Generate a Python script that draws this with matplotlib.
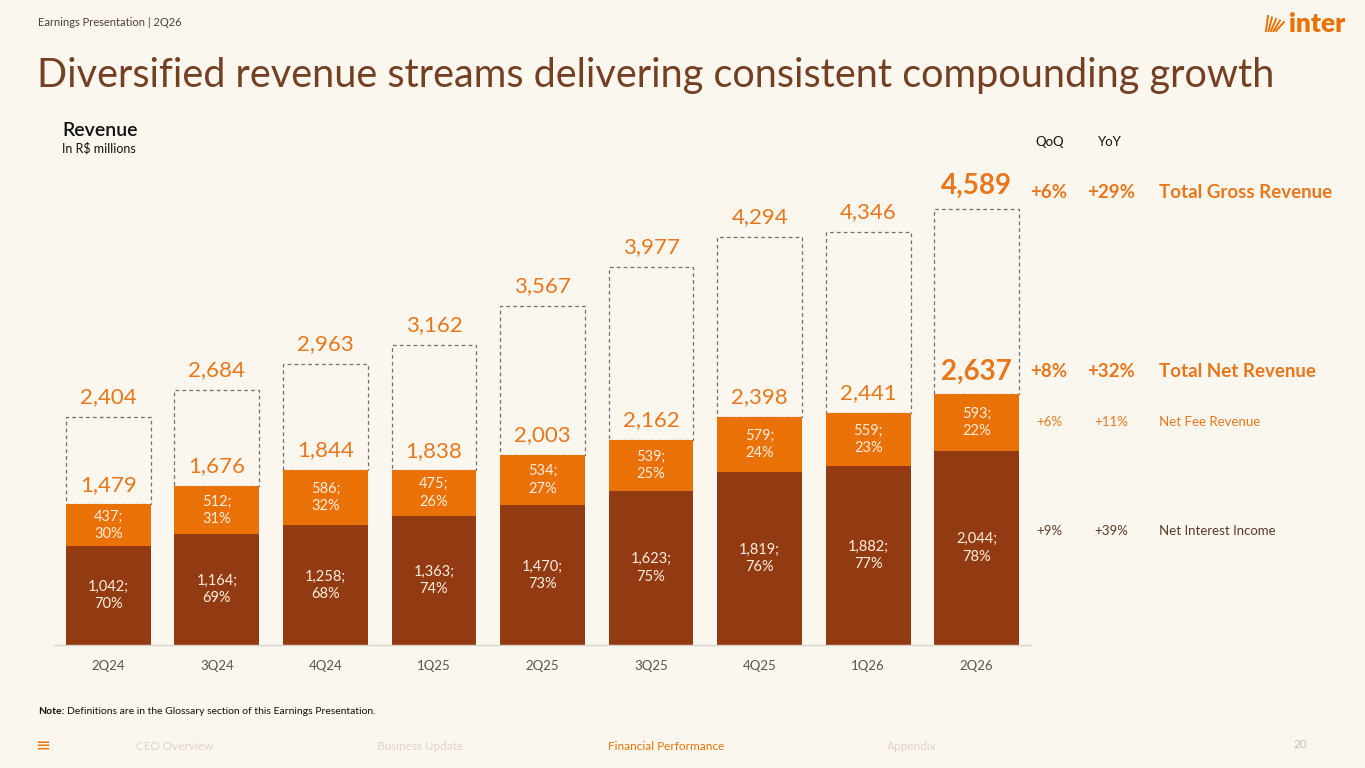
import matplotlib.pyplot as plt
from matplotlib.lines import Line2D

quarters = ['2Q24', '3Q24', '4Q24', '1Q25', '2Q25', '3Q25', '4Q25', '1Q26', '2Q26']
nii = [1042, 1164, 1258, 1363, 1470, 1623, 1819, 1882, 2044]
nii_pct = [70, 69, 68, 74, 73, 75, 76, 77, 78]
fee = [437, 512, 586, 475, 534, 539, 579, 559, 593]
fee_pct = [30, 31, 32, 26, 27, 25, 24, 23, 22]
net = [1479, 1676, 1844, 1838, 2003, 2162, 2398, 2441, 2637]
gross = [2404, 2684, 2963, 3162, 3567, 3977, 4294, 4346, 4589]

rows = ['Total Gross Revenue', 'Total Net Revenue', 'Net Fee Revenue', 'Net Interest Income']
qoq = ['+6%', '+8%', '+6%', '+9%']
yoy = ['+29%', '+32%', '+11%', '+39%']

BG = '#FBF7EF'
ORANGE = '#EA7105'
BROWN = '#923B12'
TXT_OR = '#E8771C'
TITLE = '#734024'

plt.rcParams['font.family'] = ['Lato', 'DejaVu Sans']

fig = plt.figure(figsize=(13.65, 7.68), dpi=100, facecolor=BG)
W, H = 1365, 768


def fx(px):
    return px / W


def fy(py):
    return 1 - py / H


ax = fig.add_axes([fx(54), fy(645), fx(977), 475 / H])
ax.set_facecolor('none')
x = list(range(len(quarters)))
bw = 0.78
ax.bar(x, nii, bw, color=BROWN, zorder=2)
ax.bar(x, fee, bw, bottom=nii, color=ORANGE, zorder=2)
box = [g - n for g, n in zip(gross, net)]
ax.bar(x, box, bw, bottom=net, fill=False, edgecolor='#6F6F6F',
       linestyle=(0, (3, 2.5)), linewidth=0.9, zorder=1)

ax.set_xlim(-0.5, len(quarters) - 0.5)
ax.set_ylim(0, 5000)
for s in ['top', 'right', 'left']:
    ax.spines[s].set_visible(False)
ax.spines['bottom'].set_color('#D9D3CB')
ax.spines['bottom'].set_linewidth(1)
ax.set_yticks([])
ax.set_xticks(x)
ax.set_xticklabels(quarters, fontsize=9.5, color='#555555')
ax.tick_params(axis='x', length=0, pad=11)

last = len(quarters) - 1
for i in x:
    bold = i == last
    fs = 20 if bold else 16
    fw = 'bold' if bold else 'normal'
    ax.annotate(f'{gross[i]:,}', (i, gross[i]), xytext=(0, 7),
                textcoords='offset points', ha='center', va='bottom',
                fontsize=fs, fontweight=fw, color=TXT_OR)
    ax.annotate(f'{net[i]:,}', (i, net[i]), xytext=(0, 7),
                textcoords='offset points', ha='center', va='bottom',
                fontsize=fs, fontweight=fw, color=TXT_OR)
    ax.text(i, nii[i] + fee[i] / 2, f'{fee[i]:,};\n{fee_pct[i]}%',
            ha='center', va='center', fontsize=10.5, color='#FDEEDF',
            linespacing=1.3)
    ax.text(i, nii[i] / 2, f'{nii[i]:,};\n{nii_pct[i]}%',
            ha='center', va='center', fontsize=10.5, color='#FDEEDF',
            linespacing=1.3)

# right-hand growth table
fig.text(fx(1050), fy(142), 'QoQ', ha='center', va='center', fontsize=9.5, color='#111111')
fig.text(fx(1110), fy(142), 'YoY', ha='center', va='center', fontsize=9.5, color='#111111')
row_y = [192, 371, 422, 531]
styles = [(13.5, 'bold', TXT_OR), (13.5, 'bold', TXT_OR),
          (9.5, 'normal', TXT_OR), (9.5, 'normal', '#5A3A26')]
for name, q, yy, py, (fs, fw, c) in zip(rows, qoq, yoy, row_y, styles):
    fig.text(fx(1049), fy(py), q, ha='center', va='center', fontsize=fs, fontweight=fw, color=c)
    fig.text(fx(1111), fy(py), yy, ha='center', va='center', fontsize=fs, fontweight=fw, color=c)
    fig.text(fx(1159), fy(py), name, ha='left', va='center', fontsize=fs, fontweight=fw, color=c)

# header / titles
fig.text(fx(38), fy(22), 'Earnings Presentation | 2Q26', ha='left', va='center',
         fontsize=8, color='#4A3F38')
fig.text(fx(37), fy(75), 'Diversified revenue streams delivering consistent compounding growth',
         ha='left', va='center', fontsize=28.5, fontweight='normal', color=TITLE)
fig.text(fx(62), fy(130), 'Revenue', ha='left', va='center', fontsize=14,
         fontweight='semibold', color='#111111')
fig.text(fx(62), fy(148), r'In R\$ millions', ha='left', va='center', fontsize=9,
         color='#111111')

# logo
fig.text(fx(1345), fy(24), 'inter', ha='right', va='center', fontsize=19,
         fontweight='heavy', color=ORANGE)
for k in range(5):
    fig.add_artist(Line2D([fx(1266 + k * 2.5), fx(1268 + k * 4)],
                          [fy(31), fy(16 + k * 1.5)], color=ORANGE, lw=1.4))

# footer
fig.text(fx(38), fy(711), 'Note:', ha='left', va='center', fontsize=7.5,
         fontweight='bold', color='#111111')
fig.text(fx(67), fy(711), 'Definitions are in the Glossary section of this Earnings Presentation.',
         ha='left', va='center', fontsize=7.5, color='#111111')
fig.text(fx(43), fy(746), '≡', ha='center', va='center', fontsize=13,
         color=ORANGE, family=['DejaVu Sans'])
nav = ['CEO Overview', 'Business Update', 'Financial Performance', 'Appendix']
nav_x = [175, 420, 666, 912]
for lbl, px in zip(nav, nav_x):
    col = ORANGE if lbl == 'Financial Performance' else '#DDD4CB'
    fig.text(fx(px), fy(746), lbl, ha='center', va='center', fontsize=8.5, color=col)
fig.text(fx(1300), fy(744), '20', ha='center', va='center', fontsize=8.5, color='#C9BFB5')

fig.savefig('out.png', dpi=100, facecolor=BG)
